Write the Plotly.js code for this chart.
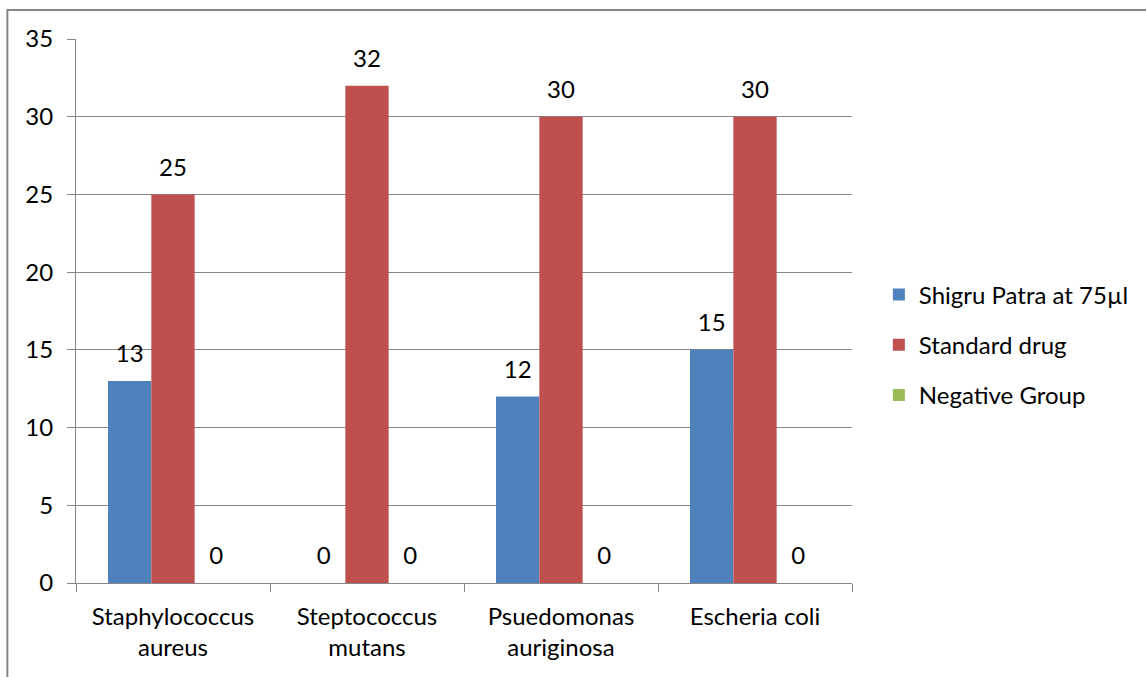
<!DOCTYPE html>
<html>
<head>
<meta charset="utf-8">
<script src="https://cdn.plot.ly/plotly-3.0.1.min.js"></script>
<style>html,body{margin:0;padding:0;background:#fff;}#chart{width:1146px;height:677px;}</style>
</head>
<body>
<div id="chart"></div>
<script>
var categories = ["Staphylococcus<br>aureus", "Steptococcus<br>mutans", "Psuedomonas<br>auriginosa", "Escheria coli"];
var seriesNames = ["Shigru Patra at 75µl", "Standard drug", "Negative Group"];
var shigru = [13, 0, 12, 15];
var standard = [25, 32, 30, 30];
var negative = [0, 0, 0, 0];
var yTicks = [0, 5, 10, 15, 20, 25, 30, 35];

var colors = ["#4F81BD", "#C0504D", "#9BBB59"];
var values = [shigru, standard, negative];
var FONT = "Lato, 'Open Sans', sans-serif";
var FS = 24;

var traces = [];
values.forEach(function (v, i) {
  traces.push({
    type: "bar", x: categories, y: v, name: seriesNames[i],
    marker: {color: colors[i]}, offsetgroup: "g" + i, alignmentgroup: "a",
    legendgroup: "l" + i, hoverinfo: "skip"
  });
});
values.forEach(function (v, i) {
  traces.push({
    type: "scatter", mode: "markers+text", x: categories, y: v,
    text: v.map(String), textposition: "top center",
    textfont: {family: FONT, size: FS, color: "#000"},
    marker: {size: 19, opacity: 0, color: colors[i]},
    offsetgroup: "g" + i, alignmentgroup: "s", showlegend: false,
    hoverinfo: "skip", cliponaxis: false
  });
});

var W = 1146, H = 677, L = 76, R = 856, T = 39, B = 583;
var pw = R - L, ph = B - T;

var layout = {
  width: W, height: H,
  margin: {l: L, r: W - R, t: T, b: H - B, pad: 0},
  paper_bgcolor: "#fff", plot_bgcolor: "#fff",
  font: {family: FONT, size: FS, color: "#000"},
  barmode: "group", bargap: 0.33, bargroupgap: 0,
  scattermode: "group", scattergap: 0.33,
  showlegend: true,
  legend: {
    x: (883 - L) / pw, xanchor: "left",
    y: (B - 345) / ph, yanchor: "middle",
    font: {family: FONT, size: FS, color: "#000"},
    traceorder: "grouped", tracegroupgap: 16,
    bgcolor: "rgba(0,0,0,0)", itemclick: false
  },
  xaxis: {
    type: "category", showgrid: false, showline: true, linecolor: "#868686", linewidth: 1,
    ticks: "outside", tickson: "boundaries", ticklen: 8, tickcolor: "#868686",
    ticklabelstandoff: 12,
    tickfont: {family: FONT, size: FS, color: "#000"}, fixedrange: true, zeroline: false
  },
  yaxis: {
    range: [0, 35], tickvals: yTicks, ticktext: yTicks.map(String),
    showgrid: true, gridcolor: "#868686", gridwidth: 1,
    showline: true, linecolor: "#868686", linewidth: 1,
    ticks: "outside", ticklen: 8, tickcolor: "#868686",
    ticklabelstandoff: 9,
    tickfont: {family: FONT, size: FS, color: "#000"}, zeroline: false, fixedrange: true
  },
  shapes: [{
    type: "rect", xref: "paper", yref: "paper", layer: "above",
    x0: (7 - L) / pw, x1: (W + 20 - L) / pw,
    y0: -(H + 20 - B) / ph, y1: 1 + (T - 10) / ph,
    line: {color: "#868686", width: 2}, fillcolor: "rgba(0,0,0,0)"
  }]
};

Plotly.newPlot("chart", traces, layout, {displayModeBar: false, staticPlot: true});
</script>
</body>
</html>
